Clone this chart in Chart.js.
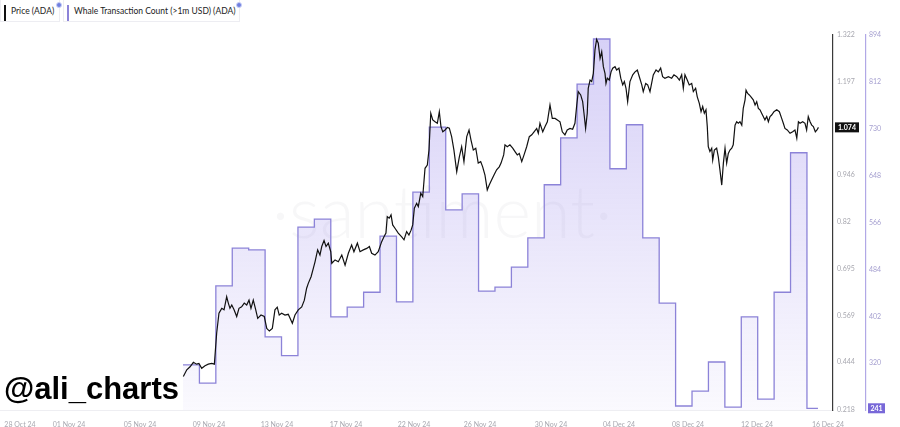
<!DOCTYPE html>
<html>

<head>
    <title>
        ADA price vs whale transactions
    </title>
    <style>
        body { margin: 0; background: #fff; }
        #wrap { position: relative; width: 900px; height: 427px; overflow: hidden; }
        .lg { position: absolute; top: 0; height: 22px; box-sizing: border-box; border: 1px solid #ededf2; border-top: none;
              background: #fff; font: 8.5px Lato, sans-serif; color: #222; line-height: 22px; padding-left: 10px; white-space: nowrap; }
        .lg .bar { position: absolute; left: 3px; top: 5px; width: 2px; height: 16px; }
        .lg .dot { position: absolute; right: -3px; top: 2px; width: 4px; height: 4px; border-radius: 50%;
                   background: #6f7fe0; border: 1px solid #c9cff6; }
        .handle { position: absolute; left: 4px; top: 373px; font: bold 31px "Liberation Sans", Arial, sans-serif;
                  line-height: 31px; color: #000; white-space: nowrap; }
    </style>
</head>

<body>
    <div id="wrap">
        <canvas id="myChart" width="900" height="427"></canvas>
        <div class="lg" style="left:0;width:60px"><span class="bar" style="background:#111"></span>Price (ADA)<span class="dot"></span></div>
        <div class="lg" style="left:63px;width:177px"><span class="bar" style="background:#8c83d8"></span>Whale Transaction Count (&gt;1m USD) (ADA)<span class="dot"></span></div>
        <div class="handle">@ali_charts</div>
    </div>
    <script src="https://cdn.jsdelivr.net/npm/chart.js@4.4.1/dist/chart.umd.min.js"></script>
    <script>
    // x is measured in days from the first whale bar
    var tickDays = [-9.93, -6.94, -2.62, 1.58, 5.72, 9.93, 14.07, 18.09, 22.41, 26.55, 30.76, 34.96, 39.28];
    var tickLabels = ['28 Oct 24', '01 Nov 24', '05 Nov 24', '09 Nov 24', '13 Nov 24', '17 Nov 24', '22 Nov 24',
        '26 Nov 24', '30 Nov 24', '04 Dec 24', '08 Dec 24', '12 Dec 24', '16 Dec 24'];

    var priceTicks = [1.322, 1.197, 1.071, 0.946, 0.82, 0.695, 0.569, 0.444, 0.315];
    var priceTickLabels = ['1.322', '1.197', '1.071', '0.946', '0.82', '0.695', '0.569', '0.444', '0.218'];
    var whaleTicks = [894, 812, 730, 648, 566, 484, 402, 320];
    var whaleTickLabels = ['894', '812', '730', '648', '566', '484', '402', '320'];

    // daily whale transaction counts (>1m USD)
    var whaleCounts = [317, 285, 455, 521, 518, 366, 333, 558, 572, 401, 418, 444, 542, 427, 619, 733, 588, 616, 446, 453,
        488, 539, 632, 714, 808, 887, 660, 737, 539, 425, 245, 271, 322, 243, 401, 257, 444, 688, 241];
    var whaleEndDay = 38.67;

    var priceDays = [
        0.02, 0.23, 0.43, 0.63, 0.83, 0.97, 1.14, 1.34, 1.54, 1.75,
        1.91, 2.05, 2.19, 2.36, 2.50, 2.66, 2.76, 2.86, 2.97, 3.11,
        3.27, 3.41, 3.57, 3.73, 3.88, 4.02, 4.14, 4.28, 4.43, 4.55,
        4.75, 4.95, 5.10, 5.26, 5.44, 5.60, 5.74, 5.86, 6.01, 6.21,
        6.41, 6.66, 6.82, 7.02, 7.23, 7.39, 7.53, 7.63, 7.80, 7.94,
        8.04, 8.20, 8.34, 8.45, 8.59, 8.71, 8.85, 9.00,
        9.06, 9.26, 9.46, 9.67, 9.87, 10.07, 10.27, 10.41, 10.62, 10.78,
        10.98, 11.19, 11.35, 11.49, 11.69, 11.89, 12.10, 12.24, 12.36, 12.44,
        12.56, 12.67, 12.77, 12.91, 13.11, 13.32, 13.46, 13.62, 13.76, 13.89,
        13.99, 14.09, 14.23, 14.33, 14.48, 14.60, 14.74, 14.88, 14.98, 15.09,
        15.21, 15.35, 15.49, 15.61, 15.71, 15.82, 15.96, 16.10, 16.22, 16.36,
        16.50, 16.67, 16.83, 16.97, 17.11, 17.28, 17.42, 17.54, 17.68, 17.83,
        17.98, 18.13, 18.25, 18.39, 18.53, 18.65, 18.80, 18.94, 19.10, 19.26,
        19.37, 19.53, 19.61, 19.75, 19.91, 20.08, 20.22, 20.36, 20.48, 20.63,
        20.77, 20.93, 21.09, 21.24, 21.38, 21.54, 21.64, 21.74, 21.91, 22.05,
        22.19, 22.35, 22.49, 22.66, 22.80, 22.96, 23.10, 23.26, 23.40, 23.57,
        23.73, 23.87, 23.98, 24.07, 24.22, 24.34, 24.42, 24.52, 24.62, 24.68,
        24.79, 24.89, 24.99, 25.09, 25.19, 25.29, 25.40, 25.50, 25.60, 25.70,
        25.76, 25.84, 25.96, 26.07, 26.17, 26.31, 26.41, 26.55, 26.66, 26.78,
        26.88, 26.98, 27.08, 27.22, 27.39, 27.53, 27.67, 27.79, 27.94, 28.03,
        28.18, 28.30, 28.44,
        28.64, 28.81, 28.95, 29.09, 29.21, 29.35, 29.56, 29.76, 29.90, 30.07,
        30.23, 30.37, 30.47, 30.57, 30.71, 30.83, 30.98, 31.08, 31.22, 31.32,
        31.44, 31.55, 31.65, 31.75, 31.85, 31.93, 31.99, 32.09, 32.20, 32.26,
        32.36, 32.50, 32.60, 32.70, 32.81, 32.91, 33.01, 33.11, 33.21, 33.31,
        33.42, 33.51, 33.62, 33.72, 33.82, 33.92, 34.03, 34.12, 34.23, 34.29,
        34.39, 34.49, 34.59, 34.73, 34.84, 34.94, 35.04, 35.14, 35.24, 35.34,
        35.44, 35.55, 35.65, 35.75, 35.85, 35.99, 36.16, 36.32, 36.46, 36.56,
        36.66, 36.80, 36.97, 37.13, 37.27, 37.38, 37.48, 37.58, 37.74, 37.88,
        37.98, 38.08, 38.19, 38.29, 38.39, 38.51, 38.61, 38.70
    ];
    var priceValues = [
        0.405, 0.423, 0.431, 0.443, 0.438, 0.440, 0.427, 0.434, 0.438, 0.440,
        0.438, 0.521, 0.575, 0.588, 0.584, 0.619, 0.602, 0.588, 0.597, 0.584,
        0.566, 0.588, 0.592, 0.602, 0.597, 0.610, 0.588, 0.610, 0.584, 0.561,
        0.570, 0.566, 0.534, 0.527, 0.534, 0.584, 0.591, 0.570, 0.575, 0.570,
        0.572, 0.548, 0.570, 0.584, 0.592, 0.610, 0.642, 0.655, 0.673, 0.696,
        0.713, 0.745, 0.731, 0.754, 0.770, 0.754, 0.763, 0.740,
        0.709, 0.718, 0.713, 0.731, 0.704, 0.736, 0.758, 0.740, 0.763, 0.740,
        0.745, 0.749, 0.754, 0.736, 0.731, 0.740, 0.767, 0.780, 0.790, 0.834,
        0.830, 0.839, 0.812, 0.803, 0.790, 0.780, 0.772, 0.794, 0.785, 0.798,
        0.812, 0.857, 0.870, 0.861, 0.897, 0.888, 0.964, 0.973, 1.013, 1.112,
        1.094, 1.089, 1.085, 1.116, 1.076, 1.062, 1.067, 1.074, 1.072, 1.049,
        1.013, 0.955, 0.995, 1.022, 0.982, 1.049, 1.067, 1.040, 1.013, 1.018,
        0.978, 0.982, 0.968, 0.946, 0.906, 0.919, 0.933, 0.946, 0.960, 0.968,
        0.978, 1.000, 1.027, 1.022, 1.027, 1.018, 1.009, 1.000, 1.004, 0.982,
        1.000, 1.022, 1.049, 1.054, 1.062, 1.071, 1.058, 1.085, 1.062, 1.076,
        1.089, 1.134, 1.098, 1.098, 1.094, 1.089, 1.062, 1.054, 1.067, 1.071,
        1.069, 1.085, 1.134, 1.170, 1.161, 1.143, 1.112, 1.071, 1.112, 1.179,
        1.201, 1.197, 1.219, 1.282, 1.310, 1.300, 1.259, 1.277, 1.237, 1.219,
        1.192, 1.206, 1.201, 1.223, 1.233, 1.237, 1.228, 1.233, 1.206, 1.188,
        1.197, 1.179, 1.143, 1.197, 1.215, 1.223, 1.228, 1.210, 1.188, 1.170,
        1.192, 1.188, 1.170,
        1.215, 1.228, 1.223, 1.233, 1.210, 1.206, 1.210, 1.206, 1.215, 1.210,
        1.201, 1.215, 1.179, 1.215, 1.201, 1.188, 1.192, 1.170, 1.179, 1.156,
        1.139, 1.116, 1.130, 1.112, 1.121, 1.076, 1.022, 1.009, 1.018, 0.986,
        1.013, 1.018, 0.995, 0.960, 0.919, 0.978, 1.018, 0.978, 1.004, 1.013,
        1.018, 1.027, 1.080, 1.089, 1.085, 1.089, 1.080, 1.125, 1.148, 1.174,
        1.165, 1.161, 1.156, 1.148, 1.134, 1.143, 1.125, 1.121, 1.112, 1.103,
        1.094, 1.103, 1.089, 1.103, 1.107, 1.116, 1.121, 1.116, 1.098, 1.085,
        1.071, 1.067, 1.058, 1.062, 1.067, 1.045, 1.089, 1.085, 1.089, 1.085,
        1.067, 1.103, 1.089, 1.080, 1.076, 1.062, 1.067, 1.074
    ];

    var pricePoints = priceDays.map(function (d, i) { return { x: d, y: priceValues[i] }; });
    var whalePoints = whaleCounts.map(function (v, i) { return { x: i, y: v }; });
    whalePoints.push({ x: whaleEndDay, y: whaleCounts[whaleCounts.length - 1] });

    // faint brand text behind the series
    var watermark = {
        id: 'watermark',
        beforeDatasetsDraw: function (chart) {
            var ctx = chart.ctx;
            ctx.save();
            ctx.font = '300 72px Lato, sans-serif';
            ctx.fillStyle = 'rgba(60, 60, 100, 0.045)';
            ctx.textAlign = 'center';
            ctx.textBaseline = 'alphabetic';
            ctx.fillText('\u00b7santiment\u00b7', 442, 238);
            ctx.restore();
        }
    };

    // last value boxes on both axes
    var badges = {
        id: 'badges',
        afterDraw: function (chart) {
            var ctx = chart.ctx;
            var yp = chart.scales.yPrice, yw = chart.scales.yWhale;
            var lastPrice = priceValues[priceValues.length - 1];
            var lastWhale = whaleCounts[whaleCounts.length - 1];
            var py = yp.getPixelForValue(lastPrice);
            var wy = yw.getPixelForValue(lastWhale);
            ctx.save();
            ctx.font = 'bold 7px Lato, sans-serif';
            ctx.textAlign = 'center';
            ctx.textBaseline = 'middle';
            ctx.fillStyle = '#111';
            ctx.fillRect(yp.left + 2, py - 5, 24, 10);
            ctx.fillStyle = '#fff';
            ctx.fillText(lastPrice.toFixed(3), yp.left + 14, py + 0.5);
            ctx.fillStyle = '#7868d8';
            ctx.fillRect(yw.left + 2, wy - 5, 17, 10);
            ctx.fillStyle = '#fff';
            ctx.fillText(String(lastWhale), yw.left + 10.5, wy + 0.5);
            ctx.restore();
        }
    };

    var tickFont = { family: 'Lato, sans-serif', size: 7 };

    var ctx = document.getElementById('myChart').getContext('2d');
    var chart = new Chart(ctx, {
        type: 'line',
        data: {
            datasets: [{
                label: 'Price (ADA)',
                data: pricePoints,
                yAxisID: 'yPrice',
                borderColor: '#111',
                borderWidth: 1.2,
                pointRadius: 0,
                fill: false
            }, {
                label: 'Whale Transaction Count (>1m USD) (ADA)',
                data: whalePoints,
                yAxisID: 'yWhale',
                stepped: 'before',
                borderColor: '#8c83d8',
                borderWidth: 1.3,
                pointRadius: 0,
                fill: 'start',
                backgroundColor: function (context) {
                    var area = context.chart.chartArea;
                    if (!area) return 'rgba(130, 110, 230, 0.15)';
                    var g = context.chart.ctx.createLinearGradient(0, area.top, 0, area.bottom);
                    g.addColorStop(0, 'rgba(130, 110, 230, 0.32)');
                    g.addColorStop(1, 'rgba(130, 110, 230, 0.04)');
                    return g;
                }
            }]
        },
        options: {
            responsive: false,
            animation: false,
            layout: { padding: { top: 35, left: 0, right: 0, bottom: 0 } },
            plugins: { legend: { display: false }, tooltip: { enabled: false } },
            scales: {
                x: {
                    type: 'linear',
                    min: -11.145,
                    max: 39.586,
                    grid: { display: false },
                    border: { color: '#eeeef2', width: 1 },
                    afterBuildTicks: function (scale) {
                        scale.ticks = tickDays.map(function (d) { return { value: d }; });
                    },
                    afterFit: function (scale) { scale.height = 17; },
                    ticks: {
                        autoSkip: false,
                        maxRotation: 0,
                        padding: 3,
                        color: '#a8a8b0',
                        font: tickFont,
                        callback: function (v, i) { return tickLabels[i]; }
                    }
                },
                yPrice: {
                    type: 'linear',
                    position: 'right',
                    weight: 0,
                    min: 0.315,
                    max: 1.322,
                    grid: { display: false, drawTicks: false },
                    border: { color: '#3a3a3a', width: 1.2 },
                    afterBuildTicks: function (scale) {
                        scale.ticks = priceTicks.map(function (v) { return { value: v }; });
                    },
                    afterFit: function (scale) { scale.width = 33; },
                    ticks: {
                        padding: 4,
                        color: '#a8a8b0',
                        font: tickFont,
                        callback: function (v, i) { return priceTickLabels[i]; }
                    }
                },
                yWhale: {
                    type: 'linear',
                    position: 'right',
                    weight: 1,
                    min: 238,
                    max: 894,
                    grid: { display: false, drawTicks: false },
                    border: { color: '#b1a8e6', width: 1.2 },
                    afterBuildTicks: function (scale) {
                        scale.ticks = whaleTicks.map(function (v) { return { value: v }; });
                    },
                    afterFit: function (scale) { scale.width = 34; },
                    ticks: {
                        padding: 3,
                        color: '#a6a0d0',
                        font: tickFont,
                        callback: function (v, i) { return whaleTickLabels[i]; }
                    }
                }
            }
        },
        plugins: [watermark, badges]
    });
    </script>
</body>

</html>
